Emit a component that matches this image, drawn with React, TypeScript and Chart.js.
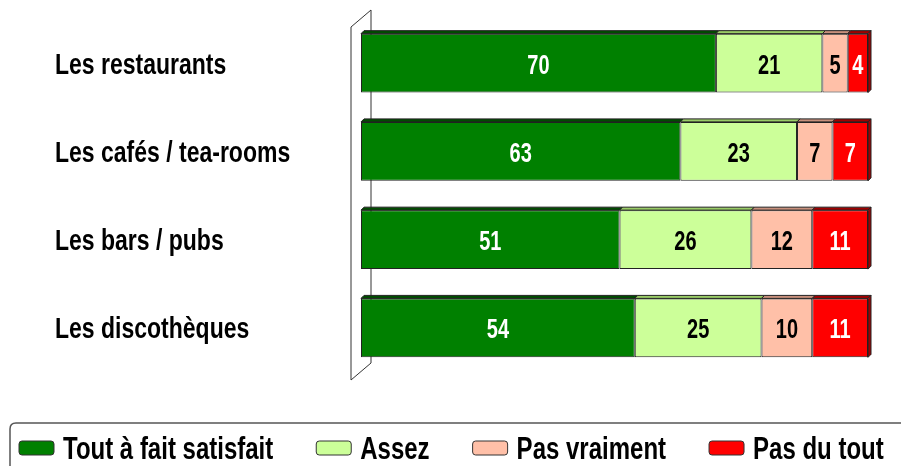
import React, { useEffect, useRef } from 'react';
import { Chart, registerables } from 'chart.js';

Chart.register(...registerables);

const categories = ['Les restaurants', 'Les cafés / tea-rooms', 'Les bars / pubs', 'Les discothèques'];
const seriesNames = ['Tout à fait satisfait', 'Assez', 'Pas vraiment', 'Pas du tout'];
const toutAFait = [70, 63, 51, 54];
const assez = [21, 23, 26, 25];
const pasVraiment = [5, 7, 12, 10];
const pasDuTout = [4, 7, 11, 11];

const fillColors = ['#008000', '#CCFF99', '#FFC0A8', '#FF0000'];
const topColors = ['#004C00', '#99CC66', '#C8907C', '#A00000'];
const valueColors = ['#FFFFFF', '#000000', '#000000', '#FFFFFF'];

const FONT = "'Liberation Sans', Arial, sans-serif";
const DEPTH = 3;

function stretchedText(ctx: any, text: string, x: number, y: number, sy: number) {
  ctx.save();
  ctx.translate(x, y);
  ctx.scale(1, sy);
  ctx.fillText(text, 0, 0);
  ctx.restore();
}

const wallPlugin = {
  id: 'wall3d',
  beforeDatasetsDraw(chart: any) {
    const { ctx, chartArea } = chart;
    const l = chartArea.left;
    ctx.save();
    ctx.beginPath();
    ctx.moveTo(l - 10, chartArea.top + 8);
    ctx.lineTo(l + 10, chartArea.top - 9);
    ctx.lineTo(l + 10, chartArea.bottom - 9);
    ctx.lineTo(l - 10, chartArea.bottom + 8);
    ctx.closePath();
    ctx.fillStyle = '#FFFFFF';
    ctx.fill();
    ctx.strokeStyle = '#333333';
    ctx.lineWidth = 1;
    ctx.stroke();
    ctx.restore();
  },
};

const depthPlugin = {
  id: 'depth3d',
  afterDatasetsDraw(chart: any) {
    const { ctx } = chart;
    const n = chart.data.datasets.length;
    ctx.save();
    ctx.lineWidth = 1;
    ctx.strokeStyle = '#222222';
    for (let d = 0; d < n; d++) {
      const meta = chart.getDatasetMeta(d);
      meta.data.forEach((bar: any) => {
        const left = Math.min(bar.base, bar.x);
        const right = Math.max(bar.base, bar.x);
        const top = bar.y - bar.height / 2;
        const bottom = bar.y + bar.height / 2;
        ctx.beginPath();
        ctx.moveTo(left, top);
        ctx.lineTo(left + DEPTH, top - DEPTH);
        ctx.lineTo(right + DEPTH, top - DEPTH);
        ctx.lineTo(right, top);
        ctx.closePath();
        ctx.fillStyle = topColors[d];
        ctx.fill();
        ctx.stroke();
        if (d === n - 1) {
          ctx.beginPath();
          ctx.moveTo(right, top);
          ctx.lineTo(right + DEPTH, top - DEPTH);
          ctx.lineTo(right + DEPTH, bottom - DEPTH);
          ctx.lineTo(right, bottom);
          ctx.closePath();
          ctx.fillStyle = topColors[d];
          ctx.fill();
          ctx.stroke();
        }
      });
    }
    // values inside the segments
    ctx.font = `bold 20px ${FONT}`;
    ctx.textAlign = 'center';
    ctx.textBaseline = 'alphabetic';
    for (let d = 0; d < n; d++) {
      const meta = chart.getDatasetMeta(d);
      const ds = chart.data.datasets[d];
      meta.data.forEach((bar: any, i: number) => {
        ctx.fillStyle = valueColors[d];
        stretchedText(ctx, String(ds.data[i]), (bar.x + bar.base) / 2, bar.y + 10.5, 1.4);
      });
    }
    // category labels from the y scale
    const yScale = chart.scales.y;
    ctx.font = `bold 23px ${FONT}`;
    ctx.textAlign = 'left';
    ctx.fillStyle = '#000000';
    chart.data.labels.forEach((lab: string, i: number) => {
      stretchedText(ctx, lab, 55, yScale.getPixelForValue(i) + 10.5, 1.28);
    });
    ctx.restore();
  },
};

const legendPlugin = {
  id: 'legendBox',
  afterDraw(chart: any) {
    const { ctx, width, height } = chart;
    ctx.save();
    const bx = 10, by = 423, r = 6;
    ctx.beginPath();
    ctx.moveTo(bx, height + 5);
    ctx.lineTo(bx, by + r);
    ctx.quadraticCurveTo(bx, by, bx + r, by);
    ctx.lineTo(width + 5, by);
    ctx.strokeStyle = '#555555';
    ctx.lineWidth = 1.5;
    ctx.stroke();
    ctx.font = `bold 24px ${FONT}`;
    ctx.textBaseline = 'alphabetic';
    ctx.textAlign = 'left';
    let x = 19;
    const cy = 448;
    chart.data.datasets.forEach((ds: any) => {
      ctx.beginPath();
      if ((ctx as any).roundRect) (ctx as any).roundRect(x, cy - 7, 35, 14, 3);
      else ctx.rect(x, cy - 7, 35, 14);
      ctx.fillStyle = ds.backgroundColor;
      ctx.fill();
      ctx.lineWidth = 1;
      ctx.strokeStyle = '#333333';
      ctx.stroke();
      ctx.fillStyle = '#000000';
      stretchedText(ctx, ds.label, x + 44, cy + 11, 1.28);
      x += 44 + ctx.measureText(ds.label).width + 43;
    });
    ctx.restore();
  },
};

export default function App() {
  const ref = useRef<HTMLCanvasElement | null>(null);
  useEffect(() => {
    if (!ref.current) return;
    const values = [toutAFait, assez, pasVraiment, pasDuTout];
    const chart = new Chart(ref.current, {
      type: 'bar',
      data: {
        labels: categories,
        datasets: values.map((v, i) => ({
          label: seriesNames[i],
          data: v,
          backgroundColor: fillColors[i],
          borderColor: '#222222',
          borderWidth: 1,
          borderSkipped: false,
          barPercentage: 1,
          categoryPercentage: 0.668,
        })),
      },
      options: {
        indexAxis: 'y',
        animation: false,
        responsive: true,
        maintainAspectRatio: false,
        layout: { padding: { top: 19, bottom: 94, right: 33, left: 0 } },
        plugins: { legend: { display: false }, tooltip: { enabled: false } },
        scales: {
          x: { stacked: true, min: 0, max: 100, display: false },
          y: {
            stacked: true,
            border: { display: false },
            grid: { display: false, drawTicks: false },
            ticks: { display: false },
            afterFit: (scale: any) => {
              scale.width = 361;
            },
          },
        },
      },
      plugins: [wallPlugin, depthPlugin, legendPlugin],
    });
    return () => chart.destroy();
  }, []);
  return (
    <div style={{ position: 'fixed', left: 0, top: 0, width: 901, height: 466, background: '#FFFFFF' }}>
      <canvas ref={ref} />
    </div>
  );
}
